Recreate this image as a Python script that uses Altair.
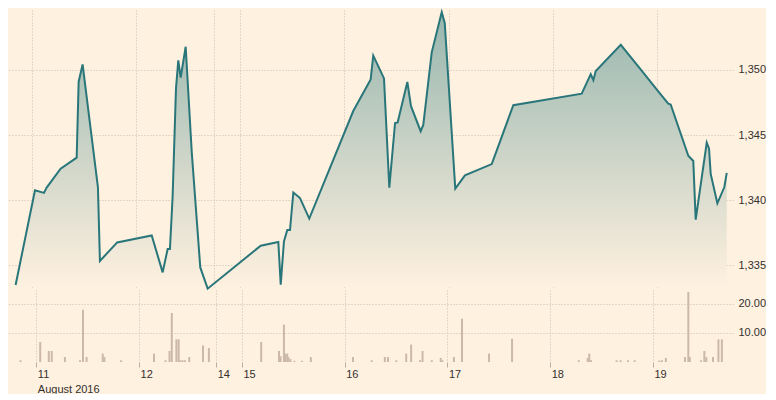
import altair as alt
import pandas as pd

# ---- data (x in trading-day units: 0 = Aug 11, 1 = Aug 12, ...) ----
price_t = [-0.154, 0.032, 0.118, 0.144, 0.278, 0.432, 0.451, 0.489, 0.636, 0.655,
           0.821, 1.152, 1.257, 1.305, 1.327, 1.353, 1.385, 1.407, 1.430, 1.478,
           1.536, 1.618, 1.689, 2.198, 2.367, 2.390, 2.421, 2.453, 2.479, 2.511,
           2.575, 2.664, 3.086, 3.253, 3.278, 3.381, 3.432, 3.487, 3.512, 3.605,
           3.640, 3.733, 3.758, 3.839, 3.935, 3.964, 4.065, 4.158, 4.415, 4.622,
           5.278, 5.365, 5.390, 5.413, 5.653, 5.838, 6.030, 6.109, 6.132, 6.301,
           6.349, 6.372, 6.478, 6.500, 6.516, 6.580, 6.647, 6.670]
price_v = [1333.5, 1340.77, 1340.57, 1340.98, 1342.42, 1343.27, 1349.1, 1350.43, 1341.0, 1335.35,
           1336.77, 1337.3, 1334.47, 1336.27, 1336.27, 1340.35, 1348.6, 1350.73, 1349.42, 1351.78,
           1343.72, 1334.85, 1333.22, 1336.52, 1336.8, 1333.52, 1336.85, 1337.72, 1337.72, 1340.6,
           1340.17, 1338.6, 1346.85, 1349.27, 1351.1, 1349.35, 1340.97, 1345.93, 1345.97, 1349.08,
           1347.22, 1345.3, 1345.78, 1351.35, 1354.43, 1353.6, 1340.9, 1341.92, 1342.78, 1347.3,
           1348.18, 1349.68, 1349.22, 1349.92, 1351.93, 1350.1, 1348.18, 1347.42, 1347.35, 1343.42,
           1343.02, 1338.52, 1344.43, 1343.98, 1342.03, 1339.77, 1341.02, 1342.1]

vol_t = [-0.154, 0.038, 0.121, 0.150, 0.278, 0.425, 0.454, 0.489, 0.646, 0.662,
         0.825, 1.145, 1.257, 1.296, 1.318, 1.363, 1.385, 1.401, 1.423, 1.445,
         1.488, 1.622, 1.679, 2.188, 2.361, 2.376, 2.409, 2.421, 2.441, 2.453,
         2.472, 2.511, 2.584, 2.671, 3.081, 3.263, 3.391, 3.422, 3.503, 3.599,
         3.647, 3.733, 3.758, 3.848, 3.935, 3.950, 4.063, 4.142, 4.405, 4.629,
         5.278, 5.365, 5.380, 5.397, 5.646, 5.685, 5.758, 5.822, 6.061, 6.087,
         6.125, 6.311, 6.344, 6.359, 6.468, 6.500, 6.519, 6.584, 6.637, 6.670]
vol_v = [0.6, 6.9, 3.8, 3.8, 1.7, 0.6, 18.0, 1.7, 2.9, 1.7,
         0.6, 2.9, 0.6, 3.8, 16.9, 7.8, 7.8, 0.6, 0.6, 0.6,
         1.7, 5.7, 4.8, 6.9, 3.8, 2.0, 12.9, 2.9, 2.9, 1.7,
         1.0, 0.4, 0.4, 1.7, 1.7, 0.6, 1.7, 1.7, 0.6, 2.9,
         6.0, 0.6, 3.8, 0.6, 1.4, 0.6, 1.7, 14.9, 2.9, 8.0,
         0.6, 1.4, 2.9, 0.6, 0.6, 0.6, 0.6, 0.6, 0.5, 0.6,
         1.4, 1.7, 24.1, 1.7, 0.6, 3.8, 1.7, 1.7, 7.8, 7.8]

tick_days = [0, 1, 1.75, 2, 3, 4, 5, 6]
tick_labels = ["11", "12", "14", "15", "16", "17", "18", "19"]
month_label = "August 2016"
price_ticks = [1335, 1340, 1345, 1350]
vol_ticks = [10, 20]

X_DOMAIN = [-0.227, 6.730]
PRICE_DOMAIN = [1333.35, 1354.6]
VOL_DOMAIN = [0, 24.8]

BG = "#fff1e0"
LINE = "#29767a"
VOLC = "#cbb8a7"
GRID = "#c9bcaf"
TEXT = "#33302e"
FONT = "Liberation Sans"

price_df = pd.DataFrame({"t": price_t, "price": price_v})
vol_df = pd.DataFrame({"t": vol_t, "vol": vol_v})

parts = []
for i, (v, l) in enumerate(zip(tick_days, tick_labels)):
    lab = f"['{l}', '{month_label}']" if i == 0 else f"'{l}'"
    parts.append(f"datum.value == {v} ? {lab} : ")
label_expr = "".join(parts) + "''"

xs = alt.Scale(domain=X_DOMAIN, nice=False, zero=False)

x_top = alt.X("t:Q", scale=xs, axis=alt.Axis(
    values=tick_days, grid=True, gridDash=[1, 2], gridColor=GRID,
    labels=False, ticks=False, domain=False, title="",
    minExtent=0, maxExtent=0))

y_price = alt.Y("price:Q", scale=alt.Scale(domain=PRICE_DOMAIN, nice=False, zero=False),
                axis=alt.Axis(orient="right", values=price_ticks, format=",d",
                              grid=True, gridDash=[1, 2], gridColor=GRID,
                              ticks=False, domain=False, labelPadding=5, title=""))

grad = alt.Gradient(gradient="linear",
                    stops=[alt.GradientStop(color="#97b6ae", offset=0),
                           alt.GradientStop(color=BG, offset=1)],
                    x1=0, x2=0, y1=0, y2=1)

area = alt.Chart(price_df).mark_area(color=grad, clip=True).encode(
    x=x_top, y=y_price, y2=alt.datum(PRICE_DOMAIN[0]))
line = alt.Chart(price_df).mark_line(color=LINE, strokeWidth=2, clip=False).encode(
    x=x_top, y=y_price)

price = alt.layer(area, line).properties(width=725, height=277)

volume = alt.Chart(vol_df).mark_bar(size=2, color=VOLC).encode(
    x=alt.X("t:Q", scale=xs, axis=alt.Axis(
        values=tick_days, labelExpr=label_expr, labelAlign="left", labelOffset=1,
        labelBaseline="top", labelPadding=1, labelLineHeight=15, tickSize=5,
        tickColor="#b9ada1", grid=True, gridDash=[1, 2], gridColor=GRID,
        domain=False, title="", labelFlush=False, labelOverlap=False)),
    y=alt.Y("vol:Q", scale=alt.Scale(domain=VOL_DOMAIN, nice=False),
            axis=alt.Axis(orient="right", values=vol_ticks, format=".2f",
                          grid=True, gridDash=[1, 2], gridColor=GRID,
                          ticks=False, domain=False, labelPadding=5, title="")),
).properties(width=725, height=72)

chart = alt.vconcat(price, volume, spacing=3, bounds="flush").properties(
    background=BG, padding=0
).configure_view(stroke=None).configure_axis(
    labelFont=FONT, labelFontSize=11, labelColor=TEXT
)

chart.save("out.html", embed_options={"renderer": "svg", "actions": False})
